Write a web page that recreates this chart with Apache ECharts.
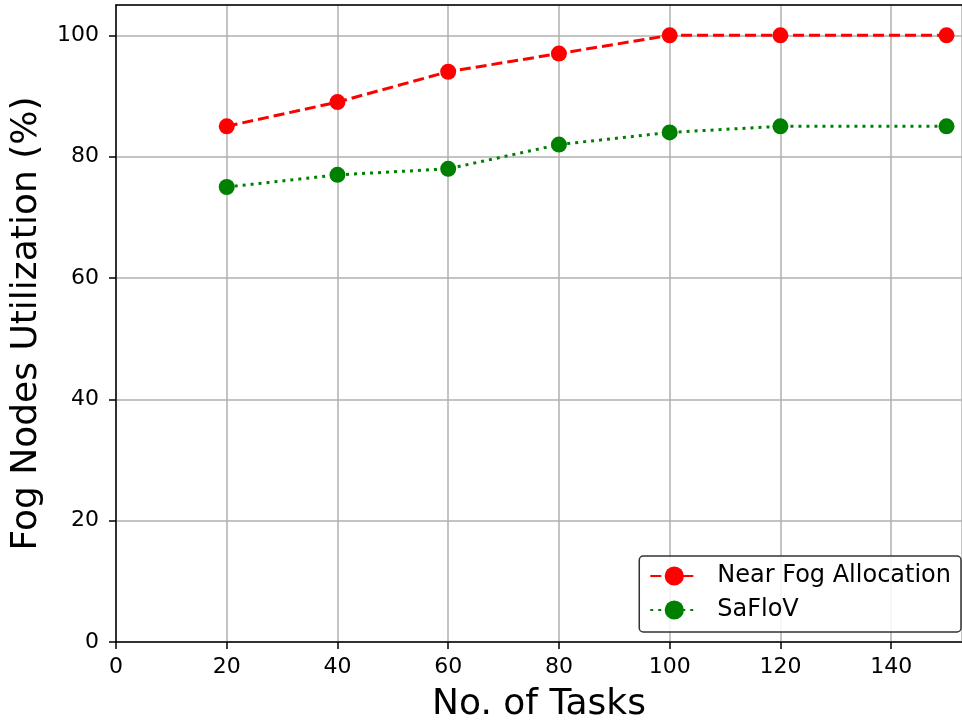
<!DOCTYPE html>
<html><head><meta charset="utf-8">
<script src="https://cdn.jsdelivr.net/npm/echarts@6/dist/echarts.min.js"></script>
<style>html,body{margin:0;padding:0;background:#fff}#c{width:962px;height:728px}</style>
</head><body><div id="c"></div>
<script>
const tasks = [20, 40, 60, 80, 100, 120, 150];
const nearFog = [85, 89, 94, 97, 100, 100, 100];
const saflov = [75, 77, 78, 82, 84, 85, 85];
const seriesNames = ['Near Fog Allocation', 'SaFloV'];
const xTitle = 'No. of Tasks';
const yTitle = 'Fog Nodes Utilization (%)';

const font = 'DejaVu Sans';
const chart = echarts.init(document.getElementById('c'), null, {renderer: 'canvas'});
const pair = (xs, ys) => xs.map((x, i) => [x, ys[i]]);
const grid = {left: 116, right: 0, top: 5, bottom: 84, containLabel: false};
chart.setOption({
  animation: false,
  backgroundColor: '#fff',
  grid: grid,
  legend: {
    right: 1, bottom: 96, orient: 'vertical', itemGap: 10,
    itemWidth: 48, itemHeight: 24,
    padding: [8, 10, 10, 10],
    borderColor: '#333', borderWidth: 1.5, borderRadius: 4,
    backgroundColor: 'rgba(255,255,255,0.85)',
    textStyle: {fontFamily: font, fontSize: 24, color: '#000', padding: [0, 0, 0, 14]},
    data: seriesNames
  },
  xAxis: [{
    type: 'value', min: 0, max: 152.8, interval: 20,
    name: xTitle, nameLocation: 'middle', nameGap: 45,
    nameTextStyle: {fontFamily: font, fontSize: 36, color: '#000'},
    axisLine: {show: true, onZero: false, lineStyle: {color: '#000', width: 1.5}},
    axisTick: {show: true, length: 7, lineStyle: {color: '#000', width: 1.5}},
    axisLabel: {fontFamily: font, fontSize: 22, color: '#000', margin: 14, showMaxLabel: false},
    splitLine: {show: true, lineStyle: {color: '#b0b0b0', width: 1.5}}
  }, {
    type: 'value', position: 'top', min: 0, max: 152.8,
    axisLine: {show: true, onZero: false, lineStyle: {color: '#000', width: 1.5}},
    axisTick: {show: false}, axisLabel: {show: false}, splitLine: {show: false}
  }],
  yAxis: {
    type: 'value', min: 0, max: 105, interval: 20,
    name: yTitle, nameLocation: 'middle', nameGap: 71,
    nameTextStyle: {fontFamily: font, fontSize: 36, color: '#000'},
    axisLine: {show: true, onZero: false, lineStyle: {color: '#000', width: 1.5}},
    axisTick: {show: true, length: 7, lineStyle: {color: '#000', width: 1.5}},
    axisLabel: {fontFamily: font, fontSize: 22, color: '#000', margin: 17, showMaxLabel: false},
    splitLine: {show: true, lineStyle: {color: '#b0b0b0', width: 1.5}}
  },
  series: [
    {name: seriesNames[0], type: 'line', data: pair(tasks, nearFog),
     symbol: 'circle', symbolSize: 16, itemStyle: {color: '#ff0000'},
     lineStyle: {color: '#ff0000', width: 3, type: [11, 5]}, z: 3},
    {name: seriesNames[1], type: 'line', data: pair(tasks, saflov),
     symbol: 'circle', symbolSize: 16, itemStyle: {color: '#008000'},
     lineStyle: {color: '#008000', width: 3, type: [3, 5]}, z: 3}
  ]
});
</script></body></html>
